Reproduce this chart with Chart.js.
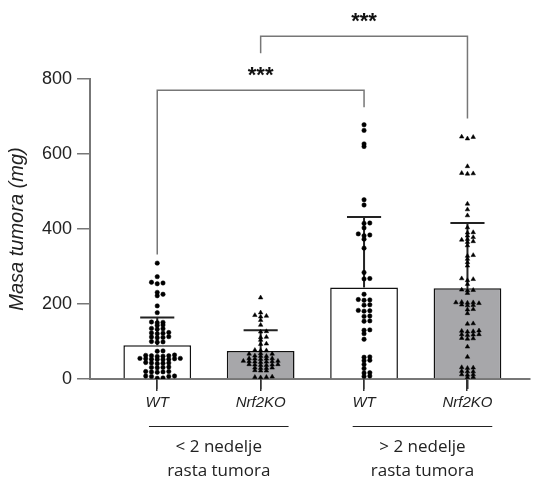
<!DOCTYPE html>
<html>
<head>
<meta charset="utf-8">
<script src="https://cdn.jsdelivr.net/npm/chart.js@4"></script>
<style>
  html, body { margin: 0; padding: 0; background: #ffffff; }
  #wrap { width: 534px; height: 479px; }
</style>
</head>
<body>
<div id="wrap"><canvas id="c" width="534" height="479"></canvas></div>
<script>
// Groups along the x axis (positions 1..4)
const categories = ['WT', 'Nrf2KO', 'WT', 'Nrf2KO'];
const groupLabels = [['< 2 nedelje', 'rasta tumora'], ['> 2 nedelje', 'rasta tumora']];
const groupStart = [0.92, 2.89];
const groupEnd = [2.27, 4.24];
const yTicks = [0, 200, 400, 600, 800];

// Bar heights (mean) and upper error (SD), mg
const meanMass = [90, 75, 244, 242];
const sdMass = [74, 55, 188, 174];

// Individual tumour masses, mg
const wtEarly = [309, 273, 258, 256, 254, 231, 226, 222, 195, 177,
  152, 151, 150, 144, 143, 135, 134, 133, 124, 123, 122, 121, 113, 112, 111, 110, 100, 99, 98,
  75, 74, 64, 63, 62, 62, 61, 60, 55, 55, 54, 54, 53, 53, 52, 52, 44, 43, 43, 42, 41,
  32, 31, 31, 30, 20, 20, 19, 19, 18, 8, 8, 7, 7, 3, 2];
const koEarly = [217, 177, 170, 168, 166, 157, 144, 127, 126, 112, 111, 104, 94, 93,
  77, 76, 76, 68, 67, 67, 62, 61, 61, 55, 55, 54, 54, 53, 48, 48, 47, 47, 46, 46, 45,
  39, 39, 38, 38, 37, 37, 30, 30, 29, 29, 23, 22, 22, 6, 5, 5, 4];
const wtLate = [678, 663, 627, 620, 478, 464, 416, 415, 403, 387, 384, 382, 373, 349,
  284, 268, 267, 226, 212, 211, 210, 198, 197, 183, 182, 181, 168, 167, 155, 154,
  131, 130, 121, 106, 59, 58, 50, 49, 39, 28, 17, 16, 8, 7];
const koLate = [646, 645, 641, 567, 549, 548, 547, 467, 452, 436, 404, 391, 390, 382, 378,
  373, 371, 367, 365, 356, 330, 328, 320, 311, 302, 268, 266, 263, 253, 238, 237, 236, 229,
  205, 204, 204, 203, 202, 198, 197, 196, 186, 185, 175, 148, 147, 129, 128, 127, 126,
  119, 119, 118, 117, 109, 108, 107, 86, 59, 31, 30, 29, 21, 20, 20, 12, 12, 11, 5, 4];

// Significance brackets
const bracketFrom = [1, 2];
const bracketTo = [3, 4];
const bracketTop = [770, 914];
const bracketLeftFoot = [332, 869];
const bracketRightFoot = [725, 695];
const bracketText = ['***', '***'];

const samples = [wtEarly, koEarly, wtLate, koLate];
const AX = '"Liberation Sans", Arial, sans-serif';

// Beeswarm: points sharing a height band are spread sideways in fixed columns
function swarmOffsets(values, pxPerY, step, band) {
  const order = values.map((v, i) => i).sort((a, b) => values[a] - values[b]);
  const placed = [];
  const off = new Array(values.length);
  for (const i of order) {
    const y = values[i] * pxPerY;
    for (let k = 0; k < 40; k++) {
      const m = Math.ceil(k / 2) * (k % 2 ? 1 : -1);
      const cx = m * step;
      if (placed.every(p => Math.abs(p.x - cx) >= step * 0.9 || Math.abs(p.y - y) >= band)) {
        off[i] = cx; placed.push({ x: cx, y }); break;
      }
    }
  }
  return off;
}

const extras = {
  id: 'extras',
  afterDatasetDraw(chart, args) {
    if (args.index !== 0) return;
    const { ctx, scales: { x, y } } = chart;
    ctx.save();
    ctx.strokeStyle = '#222';
    ctx.lineWidth = 2;
    meanMass.forEach((m, i) => {
      const px = x.getPixelForValue(i + 1);
      const y0 = y.getPixelForValue(m);
      const y1 = y.getPixelForValue(m + sdMass[i]);
      const half = 0.165 * (x.getPixelForValue(2) - x.getPixelForValue(1));
      ctx.beginPath();
      ctx.moveTo(px, y0); ctx.lineTo(px, y1);
      ctx.moveTo(px - half, y1); ctx.lineTo(px + half, y1);
      ctx.stroke();
    });
    ctx.restore();
  },
  afterDraw(chart) {
    const { ctx, scales: { x, y } } = chart;
    const base = y.getPixelForValue(0);
    ctx.save();
    // category tick marks below the x axis
    ctx.fillStyle = '#333';
    categories.forEach((c, i) => {
      const px = Math.round(x.getPixelForValue(i + 1));
      ctx.fillRect(px - 1, base, 1.5, 12);
    });
    // brackets
    ctx.strokeStyle = '#777';
    ctx.lineWidth = 1.5;
    ctx.fillStyle = '#111';
    ctx.font = 'bold 22px ' + AX;
    ctx.textAlign = 'center';
    ctx.textBaseline = 'middle';
    bracketFrom.forEach((f, i) => {
      const xa = x.getPixelForValue(f), xb = x.getPixelForValue(bracketTo[i]);
      const yt = y.getPixelForValue(bracketTop[i]);
      ctx.beginPath();
      ctx.moveTo(xa, y.getPixelForValue(bracketLeftFoot[i]));
      ctx.lineTo(xa, yt);
      ctx.lineTo(xb, yt);
      ctx.lineTo(xb, y.getPixelForValue(bracketRightFoot[i]));
      ctx.stroke();
      ctx.fillText(bracketText[i], (xa + xb) / 2, yt - 14);
    });
    // group captions under the axis
    ctx.strokeStyle = '#222';
    ctx.lineWidth = 1;
    ctx.font = '17px "Open Sans", sans-serif';
    ctx.fillStyle = '#222';
    groupLabels.forEach((lines, g) => {
      const xa = x.getPixelForValue(groupStart[g]), xb = x.getPixelForValue(groupEnd[g]);
      ctx.beginPath();
      ctx.moveTo(xa, base + 47.5); ctx.lineTo(xb, base + 47.5);
      ctx.stroke();
      lines.forEach((t, j) => ctx.fillText(t, (xa + xb) / 2, base + 68 + j * 24));
    });
    ctx.restore();
  }
};

const chart = new Chart(document.getElementById('c'), {
  type: 'bar',
  data: {
    datasets: [
      {
        type: 'bar',
        data: meanMass.map((m, i) => ({ x: i + 1, y: m })),
        backgroundColor: ['#ffffff', '#a7a7aa', '#ffffff', '#a7a7aa'],
        borderColor: '#111',
        borderWidth: 1.5,
        barPercentage: 0.655,
        categoryPercentage: 1,
        order: 2
      },
      ...samples.map((s, i) => ({
        type: 'scatter',
        data: [],
        pointStyle: i % 2 ? 'triangle' : 'circle',
        pointRadius: i % 2 ? 2.6 : 2.2,
        backgroundColor: '#000',
        borderColor: '#000',
        borderWidth: 0.5,
        order: 1
      }))
    ]
  },
  options: {
    responsive: false,
    devicePixelRatio: 1,
    animation: false,
    layout: { padding: { top: 79, left: 3, right: 2, bottom: 62 } },
    plugins: { legend: { display: false }, tooltip: { enabled: false } },
    scales: {
      x: {
        type: 'linear',
        offset: false,
        min: 0.35,
        max: 4.6,
        afterBuildTicks: s => { s.ticks = categories.map((c, i) => ({ value: i + 1 })); },
        ticks: {
          callback: v => categories[v - 1],
          font: { family: AX, size: 15, style: 'italic' },
          color: '#222',
          padding: 5,
          maxRotation: 0
        },
        grid: { offset: false, drawOnChartArea: false, tickLength: 10, color: '#333', lineWidth: 1.5 },
        border: { color: '#777', width: 2 }
      },
      y: {
        min: 0,
        max: 800,
        afterBuildTicks: s => { s.ticks = yTicks.map(v => ({ value: v })); },
        ticks: { font: { family: AX, size: 18 }, color: '#222', padding: 5 },
        grid: { drawOnChartArea: false, tickLength: 13, color: '#777', lineWidth: 1.5 },
        border: { color: '#777', width: 2 },
        title: {
          display: true,
          text: 'Masa tumora (mg)',
          font: { family: AX, size: 20, style: 'italic' },
          color: '#222',
          padding: { top: 2, bottom: 8 }
        }
      }
    }
  },
  plugins: [extras]
});

// place the individual points once the scales are known
const xs = chart.scales.x, ys = chart.scales.y;
const pxPerX = Math.abs(xs.getPixelForValue(2) - xs.getPixelForValue(1));
const pxPerY = Math.abs(ys.getPixelForValue(0) - ys.getPixelForValue(100)) / 100;
samples.forEach((s, i) => {
  const off = swarmOffsets(s, pxPerY, 5.8, 2.5);
  chart.data.datasets[i + 1].data = s.map((v, j) => ({ x: i + 1 + off[j] / pxPerX, y: v }));
});
chart.update('none');
</script>
</body>
</html>
